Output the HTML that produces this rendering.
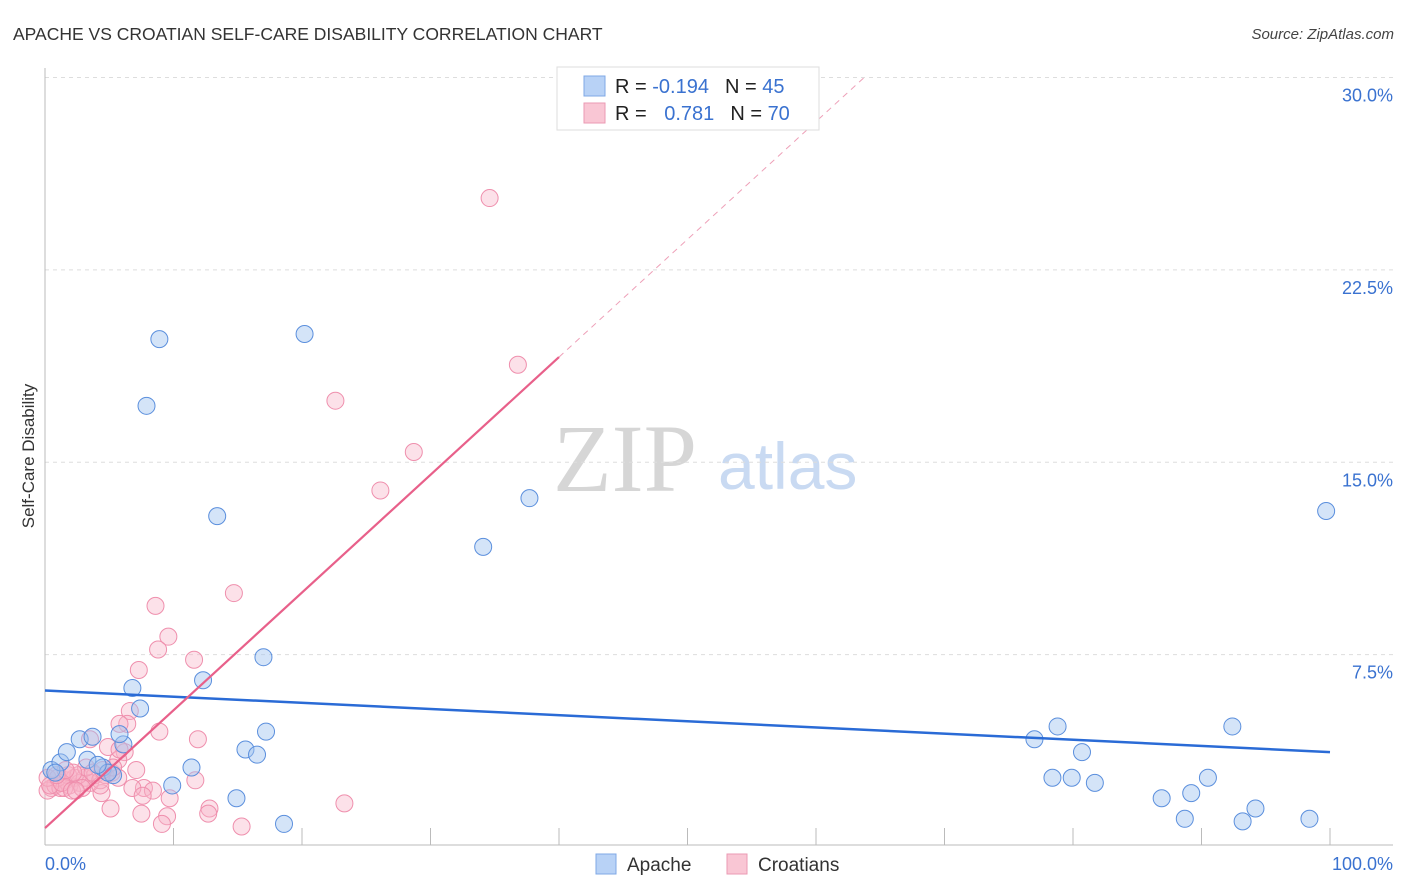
<!DOCTYPE html>
<html><head><meta charset="utf-8"><style>
body{margin:0;background:#fff;font-family:"Liberation Sans",sans-serif}
</style></head><body>
<svg id="chart" width="1406" height="892" viewBox="0 0 1406 892" xmlns="http://www.w3.org/2000/svg" style="display:block">
<text x="13" y="40" font-size="17.5" fill="#333">APACHE VS CROATIAN SELF-CARE DISABILITY CORRELATION CHART</text>
<text x="1394" y="39" font-size="15" fill="#444" font-style="italic" text-anchor="end">Source: ZipAtlas.com</text>
<text x="553" y="491" font-family="Liberation Serif,serif" font-size="96" fill="#d6d6d6">ZIP</text>
<text x="718" y="489" font-size="66" fill="#c9daf2">atlas</text>
<text transform="translate(34,456) rotate(-90)" font-size="17" fill="#333" text-anchor="middle">Self-Care Disability</text>
<g id="grid"></g><g id="axes"></g><g id="pts"></g><g id="trend"></g>
<g>
<rect x="557" y="67" width="262" height="63" fill="#fff" stroke="#ddd"/>
<rect x="584" y="76" width="21" height="20" fill="#b8d2f6" stroke="#7fa8e6"/>
<rect x="584" y="103" width="21" height="20" fill="#f9c6d4" stroke="#eb9ab3"/>
<text x="615" y="93" font-size="20" fill="#222">R = <tspan fill="#3a72d0">-0.194</tspan><tspan dx="16">N = </tspan><tspan fill="#3a72d0">45</tspan></text>
<text x="615" y="120" font-size="20" fill="#222">R = <tspan dx="12" fill="#3a72d0">0.781</tspan><tspan dx="16">N = </tspan><tspan fill="#3a72d0">70</tspan></text>
</g>
<g>
<rect x="596" y="854" width="20" height="20" fill="#b8d2f6" stroke="#7fa8e6"/>
<text x="627" y="871" font-size="19" fill="#333">Apache</text>
<rect x="727" y="854" width="20" height="20" fill="#f9c6d4" stroke="#eb9ab3"/>
<text x="758" y="871" font-size="19" fill="#333">Croatians</text>
</g>
</svg>
<script>
const yTicks=[7.5,15,22.5,30];
const yTickLabels=["7.5%","15.0%","22.5%","30.0%"];
const xTickLabels=["0.0%","100.0%"];
const apacheX=[0.5,1.2,1.7,2.7,3.7,3.3,4.5,5.3,6.1,5.8,6.8,7.4,7.9,8.9,9.9,11.4,12.3,13.4,14.9,15.6,16.5,17.0,17.2,18.6,20.2,34.1,37.7,77.0,78.4,78.8,79.9,80.7,81.7,86.9,88.7,89.2,90.5,92.4,93.2,94.2,98.4,99.7,0.8,4.9,4.1];
const apacheY=[3.0,3.3,3.7,4.2,4.3,3.4,3.1,2.8,4.0,4.4,6.2,5.4,17.2,19.8,2.4,3.1,6.5,12.9,1.9,3.8,3.6,7.4,4.5,0.9,20.0,11.7,13.6,4.2,2.7,4.7,2.7,3.7,2.5,1.9,1.1,2.1,2.7,4.7,1.0,1.5,1.1,13.1,2.9,2.9,3.2];
const croX=[34.6,36.8,22.6,28.7,26.1,14.7,8.6,9.6,8.8,11.6,7.3,6.6,6.4,5.8,8.9,11.9,4.9,6.2,3.5,11.7,7.1,7.7,8.4,9.7,4.4,6.8,5.1,7.5,9.5,9.1,12.8,12.7,15.3,23.3,0.5,0.2,0.8,1.2,1.6,1.9,2.3,2.7,3.1,3.5,3.9,4.3,4.7,5.2,5.7,0.2,1.0,1.8,2.6,4.3,3.2,2.2,1.5,5.7,7.6,5.8,0.4,1.3,2.1,2.9,3.7,4.5,5.3,0.9,1.6,2.4];
const croY=[25.3,18.8,17.4,15.4,13.9,9.9,9.4,8.2,7.7,7.3,6.9,5.3,4.8,4.8,4.5,4.2,3.9,3.7,4.2,2.6,3.0,2.3,2.2,1.9,2.1,2.3,1.5,1.3,1.2,0.9,1.5,1.3,0.8,1.7,2.3,2.2,2.4,2.3,2.6,2.4,2.7,2.5,2.7,2.5,2.8,2.6,2.8,2.9,2.7,2.7,2.7,2.8,2.8,2.4,3.1,2.9,2.3,3.4,2.0,3.8,2.4,2.5,2.2,2.3,2.9,3.0,3.1,2.8,3.0,2.2];
const apacheTrend=[6.1,-0.024];
const croTrend=[0.74,0.459];
const X0=45,X1=1330,Y0=847,PY=25.65;
const sx=v=>X0+(X1-X0)*v/100, sy=v=>Y0-v*PY;
const NS="http://www.w3.org/2000/svg";
function mk(p,t,a){const e=document.createElementNS(NS,t);for(const k in a)e.setAttribute(k,a[k]);p.appendChild(e);return e;}
const grid=document.getElementById('grid'),axes=document.getElementById('axes'),pts=document.getElementById('pts'),tr=document.getElementById('trend');
yTicks.forEach((v,i)=>{
 const l=mk(grid,'line',{x1:X0,x2:1393,y1:sy(v),y2:sy(v),stroke:'#ddd','stroke-dasharray':'4,4'});
 
 
 const t=mk(grid,'text',{x:1393,y:sy(v)+24,'font-size':18,fill:'#3a72d0','text-anchor':'end'});t.textContent=yTickLabels[i];
 
 
});
const ya=mk(axes,'line',{x1:X0,x2:X0,y1:68,y2:845,stroke:'#bbb'});


const xa=mk(axes,'line',{x1:X0,x2:1393,y1:845,y2:845,stroke:'#bbb'});


for(let i=1;i<=10;i++){const tk=mk(axes,'line',{x1:sx(i*10),x2:sx(i*10),y1:828,y2:845,stroke:'#bbb'});
 
 }
[[0,'start',xTickLabels[0]],[100,'end',xTickLabels[1]]].forEach(([v,a,s])=>{const t=mk(axes,'text',{x:v?1393:45,y:870,'font-size':18,fill:'#3a72d0','text-anchor':a});t.textContent=s;
 
 });
croX.forEach((x,i)=>{const c=mk(pts,'circle',{cx:sx(x),cy:sy(croY[i]),r:8.5,fill:'rgba(248,180,200,0.4)',stroke:'#ef8fad','stroke-width':1});
 
 });
apacheX.forEach((x,i)=>{const c=mk(pts,'circle',{cx:sx(x),cy:sy(apacheY[i]),r:8.5,fill:'rgba(160,196,240,0.45)',stroke:'#5b8fdd','stroke-width':1});
 
 });
const bl=mk(tr,'line',{x1:sx(0),y1:sy(apacheTrend[0]),x2:sx(100),y2:sy(apacheTrend[0]+apacheTrend[1]*100),stroke:'#2a6bd6','stroke-width':2.5});


const xe=40,xd=(30-croTrend[0])/croTrend[1];
const pl=mk(tr,'line',{x1:sx(0),y1:sy(croTrend[0]),x2:sx(xe),y2:sy(croTrend[0]+croTrend[1]*xe),stroke:'#e8608a','stroke-width':2.2});


const pd=mk(tr,'line',{x1:sx(xe),y1:sy(croTrend[0]+croTrend[1]*xe),x2:sx(xd),y2:sy(30),stroke:'#eea0b8','stroke-width':1,'stroke-dasharray':'6,5'});


</script>
</body></html>
